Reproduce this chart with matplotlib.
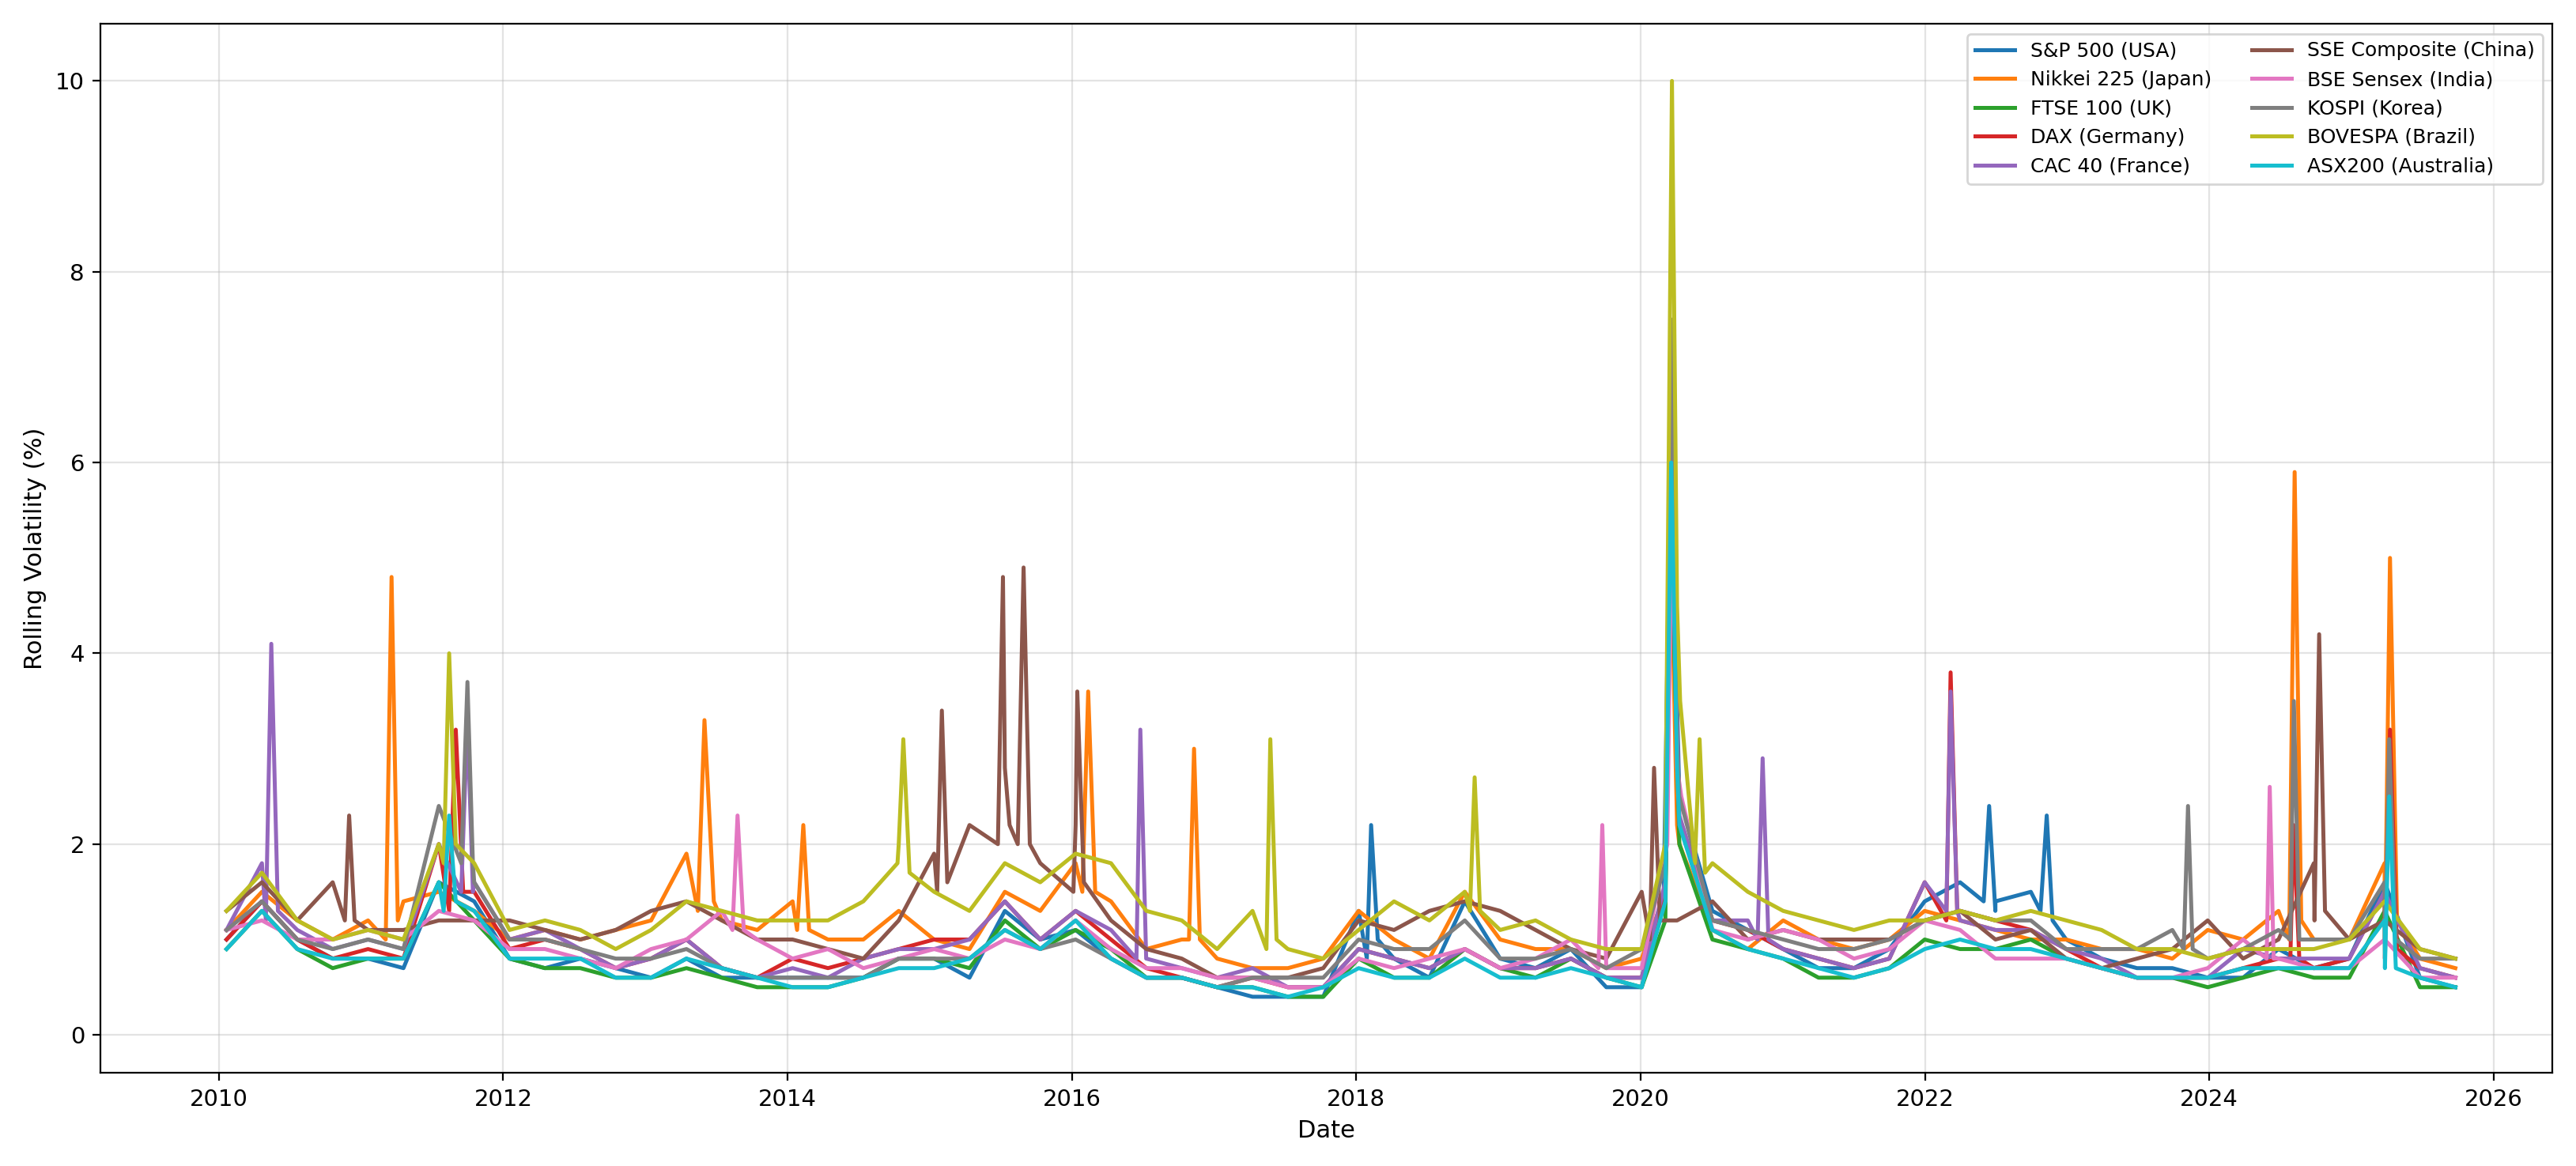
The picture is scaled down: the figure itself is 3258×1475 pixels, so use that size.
import matplotlib
matplotlib.use("Agg")
import matplotlib.pyplot as plt
import pandas as pd

names = ["S&P 500 (USA)", "Nikkei 225 (Japan)", "FTSE 100 (UK)", "DAX (Germany)", "CAC 40 (France)",
         "SSE Composite (China)", "BSE Sensex (India)", "KOSPI (Korea)", "BOVESPA (Brazil)", "ASX200 (Australia)"]

base_dates = pd.date_range("2010-01-20", "2025-09-25", periods=64)

sp500 = [1.0,1.4,1.0,0.8, 0.8,0.7,1.6,1.4, 0.8,0.7,0.8,0.7, 0.6,0.8,0.6,0.6, 0.6,0.6,0.6,0.8, 0.8,0.6,1.3,1.0,
         1.1,0.8,0.6,0.6, 0.5,0.4,0.4,0.4, 1.3,0.8,0.6,1.4, 0.8,0.7,0.9,0.5, 0.5,3.5,1.3,1.1, 0.9,0.7,0.7,0.9,
         1.4,1.6,1.4,1.5, 1.0,0.8,0.7,0.7, 0.6,0.6,0.9,0.7, 0.8,1.6,0.6,0.5]
nikkei = [1.1,1.5,1.2,1.0, 1.2,1.4,1.5,1.3, 1.0,1.1,1.0,1.1, 1.2,1.9,1.2,1.1, 1.4,1.0,1.0,1.3, 1.0,0.9,1.5,1.3,
          1.8,1.4,0.9,1.0, 0.8,0.7,0.7,0.8, 1.3,1.0,0.8,1.5, 1.0,0.9,0.9,0.7, 0.8,2.2,1.1,0.9, 1.2,1.0,0.9,1.0,
          1.3,1.2,1.1,1.0, 1.0,0.9,0.9,0.8, 1.1,1.0,1.3,1.0, 1.0,1.8,0.8,0.7]
ftse = [0.9,1.3,0.9,0.7, 0.8,0.8,1.6,1.2, 0.8,0.7,0.7,0.6, 0.6,0.7,0.6,0.5, 0.5,0.5,0.6,0.8, 0.8,0.7,1.2,0.9,
        1.1,0.9,0.6,0.6, 0.5,0.5,0.4,0.4, 0.8,0.6,0.6,0.9, 0.7,0.6,0.8,0.6, 0.5,3.0,1.0,0.9, 0.8,0.6,0.6,0.7,
        1.0,0.9,0.9,1.0, 0.8,0.7,0.6,0.6, 0.5,0.6,0.7,0.6, 0.6,1.3,0.5,0.5]
dax = [1.0,1.4,1.0,0.8, 0.9,0.8,2.0,1.5, 0.9,1.0,0.9,0.7, 0.8,1.0,0.7,0.6, 0.8,0.7,0.8,0.9, 1.0,1.0,1.4,1.0,
       1.3,1.0,0.7,0.6, 0.5,0.6,0.5,0.5, 0.9,0.8,0.7,0.9, 0.7,0.7,0.8,0.6, 0.6,3.2,1.2,1.1, 0.9,0.8,0.7,0.8,
       1.6,1.3,1.2,1.1, 0.9,0.7,0.6,0.6, 0.6,0.7,0.8,0.7, 0.8,1.5,0.7,0.6]
cac = [1.1,1.8,1.1,0.9, 1.0,0.9,2.0,1.6, 1.0,1.1,0.9,0.7, 0.8,1.0,0.7,0.6, 0.7,0.6,0.8,0.9, 0.9,1.0,1.4,1.0,
       1.3,1.1,0.8,0.7, 0.6,0.7,0.5,0.5, 0.9,0.8,0.7,0.9, 0.7,0.7,0.8,0.6, 0.6,3.2,1.2,1.2, 0.9,0.8,0.7,0.8,
       1.6,1.2,1.1,1.1, 0.9,0.8,0.6,0.6, 0.6,0.9,0.8,0.8, 0.8,1.5,0.7,0.6]
sse = [1.3,1.6,1.2,1.6, 1.1,1.1,1.2,1.2, 1.2,1.1,1.0,1.1, 1.3,1.4,1.2,1.0, 1.0,0.9,0.8,1.2, 1.9,2.2,2.8,1.8,
       2.2,1.2,0.9,0.8, 0.6,0.6,0.6,0.7, 1.2,1.1,1.3,1.4, 1.3,1.1,0.9,0.8, 1.5,1.2,1.4,1.0, 1.1,1.0,1.0,1.0,
       1.2,1.3,1.0,1.1, 0.8,0.7,0.8,0.9, 1.2,0.8,1.0,1.8, 1.0,1.2,0.9,0.8]
bse = [1.1,1.2,1.0,1.0, 1.1,1.0,1.3,1.2, 0.9,0.9,0.8,0.7, 0.9,1.0,1.3,1.0, 0.8,0.9,0.7,0.8, 0.9,0.8,1.0,0.9,
       1.2,0.9,0.7,0.7, 0.6,0.6,0.5,0.5, 0.8,0.7,0.8,0.9, 0.7,0.8,1.0,0.7, 0.7,2.8,1.1,1.0, 1.1,1.0,0.8,0.9,
       1.2,1.1,0.8,0.8, 0.8,0.7,0.6,0.6, 0.7,1.0,0.8,0.7, 0.7,1.0,0.6,0.6]
kospi = [1.1,1.4,1.0,0.9, 1.0,0.9,2.4,1.6, 1.0,1.0,0.9,0.8, 0.8,0.9,0.7,0.6, 0.6,0.6,0.6,0.8, 0.8,0.8,1.1,0.9,
         1.0,0.8,0.6,0.6, 0.5,0.6,0.6,0.6, 1.0,0.9,0.9,1.2, 0.8,0.8,0.9,0.7, 0.9,3.0,1.2,1.1, 1.0,0.9,0.9,1.0,
         1.2,1.3,1.2,1.2, 0.9,0.9,0.9,1.1, 0.8,0.9,1.1,1.0, 1.0,1.6,0.8,0.8]
bovespa = [1.3,1.7,1.2,1.0, 1.1,1.0,2.0,1.8, 1.1,1.2,1.1,0.9, 1.1,1.4,1.3,1.2, 1.2,1.2,1.4,2.0, 1.5,1.3,1.8,1.6,
           1.9,1.8,1.3,1.2, 0.9,1.3,0.9,0.8, 1.1,1.4,1.2,1.5, 1.1,1.2,1.0,0.9, 0.9,4.5,1.8,1.5, 1.3,1.2,1.1,1.2,
           1.2,1.3,1.2,1.3, 1.2,1.1,0.9,0.9, 0.8,0.9,0.9,0.9, 1.0,1.4,0.9,0.8]
asx = [0.9,1.3,0.9,0.8, 0.8,0.8,1.6,1.3, 0.8,0.8,0.8,0.6, 0.6,0.8,0.7,0.6, 0.5,0.5,0.6,0.7, 0.7,0.8,1.1,0.9,
       1.2,0.8,0.6,0.6, 0.5,0.5,0.4,0.5, 0.7,0.6,0.6,0.8, 0.6,0.6,0.7,0.6, 0.5,2.8,1.1,0.9, 0.8,0.7,0.6,0.7,
       0.9,1.0,0.9,0.9, 0.8,0.7,0.6,0.6, 0.6,0.7,0.7,0.7, 0.7,1.2,0.6,0.5]

sp500_spikes = [("2018-01-28",0.8),("2018-02-08",2.2),("2018-02-25",1.0),
                ("2020-03-01",1.5),("2020-03-18",6.0),("2020-04-10",2.5),
                ("2022-06-01",1.4),("2022-06-15",2.4),("2022-07-01",1.3),
                ("2022-10-25",1.3),("2022-11-10",2.3),("2022-11-25",1.2)]
nikkei_spikes = [("2011-03-05",1.0),("2011-03-20",4.8),("2011-04-05",1.2),
                 ("2013-05-15",1.3),("2013-06-01",3.3),("2013-06-25",1.4),
                 ("2014-01-25",1.1),("2014-02-10",2.2),("2014-02-25",1.1),
                 ("2016-01-28",1.5),("2016-02-12",3.6),("2016-03-01",1.5),
                 ("2016-10-28",1.0),("2016-11-10",3.0),("2016-11-25",1.0),
                 ("2020-03-05",1.5),("2020-03-20",5.0),("2020-04-10",2.0),
                 ("2024-07-25",1.0),("2024-08-08",5.9),("2024-08-25",1.2),
                 ("2025-03-28",1.0),("2025-04-10",5.0),("2025-04-28",1.2)]
ftse_spikes = [("2020-03-05",1.2),("2020-03-18",5.5),("2020-04-10",2.0)]
dax_spikes = [("2011-08-15",1.3),("2011-09-01",3.2),("2011-09-20",1.5),
              ("2020-03-05",1.5),("2020-03-18",5.8),("2020-04-10",2.2),
              ("2022-02-25",1.2),("2022-03-08",3.8),("2022-03-25",1.3),
              ("2024-07-28",0.8),("2024-08-05",2.2),("2024-08-20",0.8),
              ("2025-03-28",0.8),("2025-04-10",3.2),("2025-04-28",0.9)]
cac_spikes = [("2010-05-01",1.2),("2010-05-15",4.1),("2010-06-01",1.3),
              ("2011-09-15",1.5),("2011-10-01",3.3),("2011-10-15",1.5),
              ("2016-06-15",0.8),("2016-06-25",3.2),("2016-07-10",0.8),
              ("2020-03-05",1.6),("2020-03-18",6.5),("2020-04-10",2.3),
              ("2020-10-28",1.0),("2020-11-10",2.9),("2020-11-25",1.0),
              ("2022-02-25",1.3),("2022-03-08",3.6),("2022-03-25",1.3)]
sse_spikes = [("2010-11-20",1.2),("2010-12-01",2.3),("2010-12-15",1.2),
              ("2015-01-20",1.5),("2015-02-01",3.4),("2015-02-15",1.6),
              ("2015-06-25",2.0),("2015-07-08",4.8),("2015-07-25",2.2),
              ("2015-08-15",2.0),("2015-08-30",4.9),("2015-09-15",2.0),
              ("2016-01-05",1.5),("2016-01-15",3.6),("2016-02-01",1.6),
              ("2020-01-25",1.0),("2020-02-05",2.8),("2020-02-20",1.2),
              ("2024-09-28",1.2),("2024-10-10",4.2),("2024-10-25",1.3)]
bse_spikes = [("2013-08-12",1.1),("2013-08-25",2.3),("2013-09-10",1.1),
              ("2019-09-15",0.7),("2019-09-25",2.2),("2019-10-08",0.7),
              ("2020-03-10",2.0),("2020-03-25",6.6),("2020-04-15",2.5),
              ("2024-05-28",0.8),("2024-06-05",2.6),("2024-06-15",0.8)]
kospi_spikes = [("2011-09-15",1.8),("2011-10-01",3.7),("2011-10-15",1.8),
                ("2020-03-05",1.8),("2020-03-20",7.5),("2020-04-10",2.5),
                ("2023-10-28",0.9),("2023-11-08",2.4),("2023-11-20",0.9),
                ("2024-07-28",1.0),("2024-08-06",3.5),("2024-08-20",1.0),
                ("2025-03-28",1.0),("2025-04-08",3.1),("2025-04-25",1.0)]
bovespa_spikes = [("2011-08-01",1.8),("2011-08-15",4.0),("2011-09-01",2.0),
                  ("2014-10-10",1.8),("2014-10-25",3.1),("2014-11-10",1.7),
                  ("2017-05-15",0.9),("2017-05-25",3.1),("2017-06-10",1.0),
                  ("2018-10-20",1.3),("2018-11-01",2.7),("2018-11-15",1.3),
                  ("2020-03-05",2.0),("2020-03-22",10.0),("2020-04-12",3.5),
                  ("2020-05-20",1.8),("2020-06-01",3.1),("2020-06-15",1.7)]
asx_spikes = [("2011-08-01",1.3),("2011-08-15",2.3),("2011-09-01",1.4),
              ("2020-03-05",1.4),("2020-03-20",6.0),("2020-04-10",2.2),
              ("2025-03-28",0.7),("2025-04-08",2.5),("2025-04-25",0.7)]

series = [(sp500, sp500_spikes), (nikkei, nikkei_spikes), (ftse, ftse_spikes), (dax, dax_spikes),
          (cac, cac_spikes), (sse, sse_spikes), (bse, bse_spikes), (kospi, kospi_spikes),
          (bovespa, bovespa_spikes), (asx, asx_spikes)]

fig, ax = plt.subplots(figsize=(16.29, 7.375), dpi=200)
for name, (vals, spikes) in zip(names, series):
    s = pd.Series(vals, index=base_dates)
    sp = pd.Series([v for _, v in spikes], index=pd.to_datetime([d for d, _ in spikes]))
    s = pd.concat([s, sp]).sort_index()
    s = s[~s.index.duplicated()]
    ax.plot(s.index, s.values, lw=1.8, label=name)

ax.set_xlim(pd.Timestamp("2009-03-01"), pd.Timestamp("2026-06-01"))
ax.set_ylim(-0.4, 10.6)
ax.set_xlabel("Date", fontsize=11)
ax.set_ylabel("Rolling Volatility (%)", fontsize=11)
ax.tick_params(labelsize=10.5)
ax.grid(True, alpha=0.35)
ax.legend(ncol=2, loc="upper right", fontsize=9)
fig.tight_layout()
fig.savefig("out.png", dpi=200)
